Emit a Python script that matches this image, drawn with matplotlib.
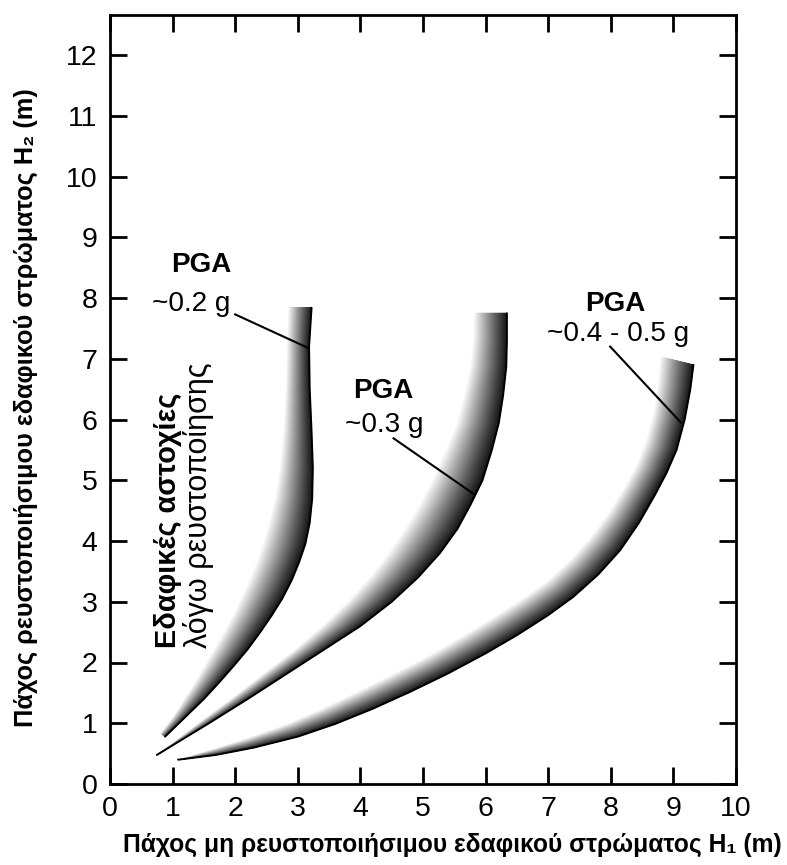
import numpy as np
import matplotlib
matplotlib.use("Agg")
import matplotlib.pyplot as plt
from matplotlib.collections import PolyCollection

plt.rcParams['font.family'] = ['Liberation Sans', 'DejaVu Sans']

# ---------------- data ----------------
x_ticks = list(range(0, 11))
y_ticks = list(range(0, 13))

# PGA ~0.2 g band: dark (right) edge and light (left) edge, top -> tip
b02_dark_x = [3.22, 3.18, 3.19, 3.22, 3.24, 3.23, 3.19, 3.12, 3.02, 2.90, 2.75, 2.58, 2.40, 2.20, 1.98, 1.75, 1.50, 1.20, 0.88]
b02_dark_y = [7.84, 7.20, 6.50, 5.80, 5.20, 4.70, 4.30, 3.95, 3.65, 3.35, 3.05, 2.77, 2.50, 2.22, 1.95, 1.68, 1.40, 1.10, 0.78]
b02_light_x = [2.82, 2.80, 2.78, 2.74, 2.68, 2.60, 2.50, 2.40, 2.30, 2.18, 2.05, 1.92, 1.78, 1.63, 1.48, 1.33, 1.16, 0.98, 0.80]
b02_light_y = [7.84, 7.20, 6.50, 5.80, 5.20, 4.70, 4.30, 3.95, 3.65, 3.35, 3.05, 2.77, 2.50, 2.22, 1.95, 1.68, 1.40, 1.10, 0.85]

# PGA ~0.3 g band
b03_dark_x = [6.34, 6.34, 6.33, 6.28, 6.21, 6.10, 5.95, 5.76, 5.55, 5.27, 4.92, 4.50, 4.00, 3.40, 2.80, 2.20, 1.58, 1.10, 0.75]
b03_dark_y = [7.75, 7.30, 6.87, 6.40, 5.94, 5.50, 5.00, 4.60, 4.20, 3.80, 3.40, 3.00, 2.60, 2.20, 1.80, 1.40, 1.00, 0.70, 0.48]
b03_light_x = [5.78, 5.77, 5.72, 5.62, 5.50, 5.32, 5.10, 4.90, 4.66, 4.40, 4.10, 3.75, 3.35, 2.90, 2.40, 1.90, 1.38, 1.00, 0.74]
b03_light_y = [7.75, 7.30, 6.87, 6.40, 5.94, 5.50, 5.00, 4.60, 4.20, 3.80, 3.40, 3.00, 2.60, 2.20, 1.80, 1.40, 1.00, 0.70, 0.50]

# PGA ~0.4-0.5 g band
b045_dark_x = [9.32, 9.27, 9.18, 9.05, 8.89, 8.70, 8.45, 8.15, 7.80, 7.40, 7.00, 6.50, 6.00, 5.40, 4.80, 4.20, 3.60, 3.00, 2.30, 1.70, 1.09]
b045_dark_y = [6.90, 6.50, 6.00, 5.50, 5.12, 4.75, 4.30, 3.85, 3.45, 3.08, 2.78, 2.45, 2.15, 1.82, 1.52, 1.24, 0.99, 0.78, 0.60, 0.48, 0.40]
b045_light_x = [8.76, 8.72, 8.65, 8.52, 8.38, 8.20, 7.95, 7.65, 7.32, 6.95, 6.55, 6.08, 5.60, 5.05, 4.48, 3.90, 3.35, 2.80, 2.15, 1.60, 1.09]
b045_light_y = [7.04, 6.60, 6.12, 5.62, 5.26, 4.92, 4.50, 4.08, 3.70, 3.35, 3.06, 2.75, 2.45, 2.12, 1.82, 1.52, 1.25, 1.00, 0.76, 0.58, 0.42]

# leader lines: (label end) -> (point on band)
lead02 = ([2.00, 3.16], [7.73, 7.18])
lead03 = ([4.53, 5.83], [5.69, 4.76])
lead045 = ([7.99, 9.12], [7.20, 5.95])

pga_labels = ["~0.2 g", "~0.3 g", "~0.4 - 0.5 g"]

# ---------------- figure ----------------
W, H = 787, 865
fig = plt.figure(figsize=(W / 100, H / 100), dpi=100)
ax_l, ax_r, ax_t, ax_b = 110, 736, 15, 784
ax = fig.add_axes([ax_l / W, 1 - ax_b / H, (ax_r - ax_l) / W, (ax_b - ax_t) / H])
ax.set_xlim(0, 10)
ax.set_ylim(0, (ax_b - ax_t) / 60.75)


def draw_band(xd, yd, xl, yl, n=90, gamma=1.1):
    xd, yd, xl, yl = (np.asarray(v, float) for v in (xd, yd, xl, yl))
    polys, cols = [], []
    for i in range(n):
        t0, t1 = i / n, (i + 1) / n
        xa, ya = xd + (xl - xd) * t0, yd + (yl - yd) * t0
        xb, yb = xd + (xl - xd) * t1, yd + (yl - yd) * t1
        polys.append(np.column_stack([np.r_[xa, xb[::-1]], np.r_[ya, yb[::-1]]]))
        g = min(1.0, 0.08 + ((t0 + t1) / 2) ** gamma * 0.96)
        cols.append((g, g, g))
    pc = PolyCollection(polys, facecolors=cols, edgecolors=cols, linewidths=0.5, zorder=2)
    ax.add_collection(pc)
    ax.plot(xd, yd, color='black', lw=1.4, zorder=3, solid_capstyle='round',
            solid_joinstyle='round')


draw_band(b02_dark_x, b02_dark_y, b02_light_x, b02_light_y)
draw_band(b03_dark_x, b03_dark_y, b03_light_x, b03_light_y)
draw_band(b045_dark_x, b045_dark_y, b045_light_x, b045_light_y)

for lx, ly in (lead02, lead03, lead045):
    ax.plot(lx, ly, color='black', lw=1.5, zorder=4)

# ticks / spines
ax.set_xticks(x_ticks)
ax.set_yticks(y_ticks)
ax.set_xticklabels([str(v) for v in x_ticks])
ax.set_yticklabels([str(v) for v in y_ticks])
ax.tick_params(direction='in', length=12, width=2, top=True, right=True,
               labelsize=20.5, pad=9, color='black')
for s in ax.spines.values():
    s.set_linewidth(2.0)

# axis labels
ax.set_xlabel("Πάχος μη ρευστοποιήσιμου εδαφικού στρώματος H\u2081 (m)",
              fontweight='bold', fontsize=14)
ax.set_ylabel("Πάχος ρευστοποιήσιμου εδαφικού στρώματος H\u2082 (m)",
              fontweight='bold', fontsize=14)
ax.xaxis.set_label_coords((452.5 - ax_l) / (ax_r - ax_l), (ax_b - 845) / (ax_b - ax_t))
ax.xaxis.label.set_va('center')
ax.yaxis.set_label_coords((26 - ax_l) / (ax_r - ax_l), (ax_b - 408) / (ax_b - ax_t))
ax.yaxis.label.set_va('center')

# annotations
t_pga1 = ax.text(1.46, 8.42, "PGA", fontweight='bold', ha='center', va='baseline', fontsize=19)
t_pga2 = ax.text(4.36, 6.36, "PGA", fontweight='bold', ha='center', va='baseline', fontsize=19)
t_pga3 = ax.text(8.07, 7.78, "PGA", fontweight='bold', ha='center', va='baseline', fontsize=19)
t_g1 = ax.text(1.29, 7.78, pga_labels[0], ha='center', va='baseline', fontsize=18)
t_g2 = ax.text(4.38, 5.80, pga_labels[1], ha='center', va='baseline', fontsize=18)
t_g3 = ax.text(8.12, 7.30, pga_labels[2], ha='center', va='baseline', fontsize=18)

t_v1 = ax.text(0.93, 2.24, "Εδαφικές αστοχίες", rotation=90, ha='center', va='bottom',
               fontsize=18, fontweight='bold')
t_v2 = ax.text(1.41, 2.24, "λόγω ρευστοποίησης", rotation=90, ha='center', va='bottom',
               fontsize=18)

# fit text sizes to the reference extents
fig.canvas.draw()
r = fig.canvas.get_renderer()


def fit(t, target, vertical=False):
    bb = t.get_window_extent(renderer=r)
    w = bb.height if vertical else bb.width
    return t.get_fontsize() * target / w


ax.xaxis.label.set_fontsize(fit(ax.xaxis.label, 661))
ax.yaxis.label.set_fontsize(fit(ax.yaxis.label, 640, vertical=True))
s_pga = fit(t_pga1, 60)
for t in (t_pga1, t_pga2, t_pga3):
    t.set_fontsize(s_pga)
s_g = fit(t_g3, 143)
for t in (t_g1, t_g2, t_g3):
    t.set_fontsize(s_g)
t_v1.set_fontsize(fit(t_v1, 255, vertical=True))
t_v2.set_fontsize(fit(t_v2, 286, vertical=True))

fig.savefig("out.png", dpi=100)
